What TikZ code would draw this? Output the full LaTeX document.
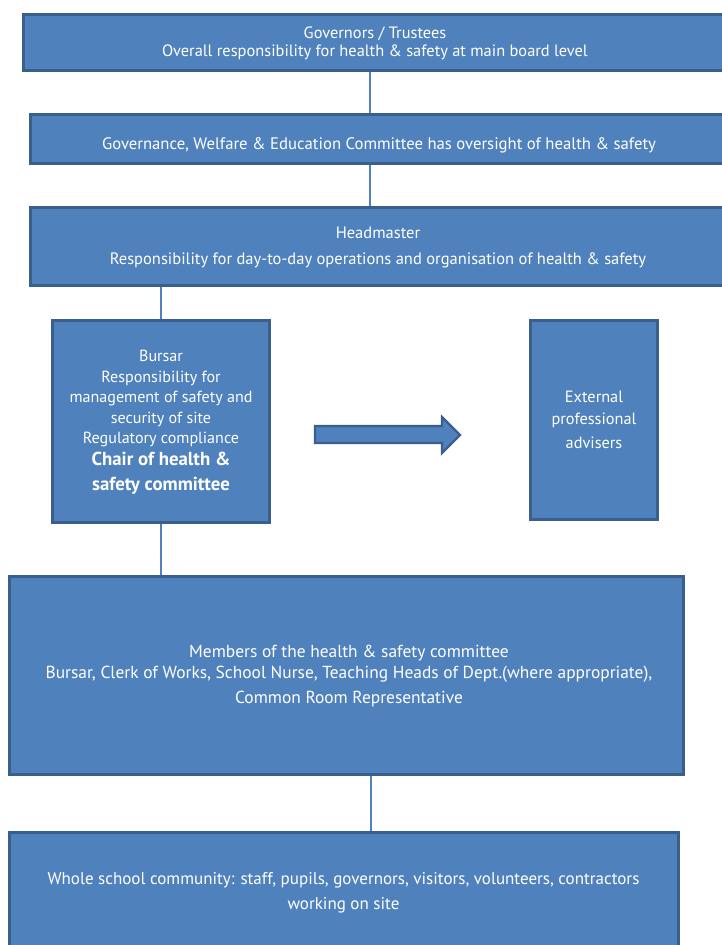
\documentclass[tikz,border=0pt]{standalone}
\usepackage{fontspec}
\setmainfont{PT Sans}
\definecolor{boxfill}{HTML}{4F81BD}
\definecolor{boxline}{HTML}{3A5F8C}
\definecolor{connline}{HTML}{4F81BD}
\begin{document}
\begin{tikzpicture}[x=1pt,y=-1pt,
  box/.style={rectangle, draw=boxline, fill=boxfill, line width=3pt, inner sep=0pt},
  txt/.style={text=white, align=center, font=\fontsize{16.4}{19.5}\selectfont, inner sep=0pt},
  boldtxt/.style={text=white, align=center, font=\fontsize{18.8}{25}\selectfont\bfseries, inner sep=0pt},
  conn/.style={draw=connline, line width=1.1pt},
  bigarrow/.style={draw=boxline, fill=boxfill, line width=2.2pt, line join=miter}]
\useasboundingbox (0,0) rectangle (721,945);
% boxes
\node[box, minimum width=703pt, minimum height=56pt] (gov) at (375,42.5) {};
\node[box, minimum width=697pt, minimum height=49pt] (gvc) at (379,139) {};
\node[box, minimum width=695pt, minimum height=78pt] (hm) at (378,246.5) {};
\node[box, minimum width=217pt, minimum height=202pt] (bur) at (161,421.5) {};
\node[box, minimum width=127pt, minimum height=199pt] (ext) at (594,420) {};
\node[box, minimum width=674pt, minimum height=198pt] (mem) at (346.5,675.5) {};
\node[box, minimum width=669pt, minimum height=125pt] (whole) at (344,895) {};
% texts
\node[txt, font=\fontsize{16.4}{18}\selectfont] (govt) at (375,43) {Governors / Trustees\\Overall responsibility for health \& safety at main board level};
\node[txt, font=\fontsize{16.7}{19}\selectfont] (gvct) at (379,145) {Governance, Welfare \& Education Committee has oversight of health \& safety};
\node[txt, font=\fontsize{16.5}{19}\selectfont] (hmt) at (378,247) {Headmaster\\[7pt]Responsibility for day-to-day operations and organisation of health \& safety};
\node[txt, font=\fontsize{16.1}{20.5}\selectfont] (burt) at (161,399) {Bursar\\Responsibility for\\management of safety and\\security of site\\Regulatory compliance};
\node[boldtxt] (burb) at (161,473.5) {Chair of health \&\\safety committee};
\node[txt, font=\fontsize{16.3}{21.5}\selectfont] (extt) at (594,420) {External\\professional\\[3pt]advisers};
\node[txt, font=\fontsize{17.4}{21}\selectfont] (memt) at (349,676) {Members of the health \& safety committee\\Bursar, Clerk of Works, School Nurse, Teaching Heads of Dept.(where appropriate),\\[4pt]Common Room Representative};
\node[txt, font=\fontsize{17}{25}\selectfont] (wholet) at (343.5,892.5) {Whole school community: staff, pupils, governors, visitors, volunteers, contractors\\working on site};
% connectors
\draw[conn] ([xshift=-5pt]gov.south) -- ([xshift=-9pt]gvc.north);
\draw[conn] ([xshift=-9pt]gvc.south) -- ([xshift=-8pt]hm.north);
\draw[conn] (hm.south -| bur.north) -- (bur.north);
\draw[conn] (bur.south) -- (bur.south |- mem.north);
\draw[conn] ([xshift=24.5pt]mem.south) -- ([xshift=27pt]whole.north);
% block arrow
\path[bigarrow] (315,426) -- (442,426) -- (442,417) -- (460,435) -- (442,453) -- (442,443) -- (315,443) -- cycle;
\end{tikzpicture}
\end{document}
